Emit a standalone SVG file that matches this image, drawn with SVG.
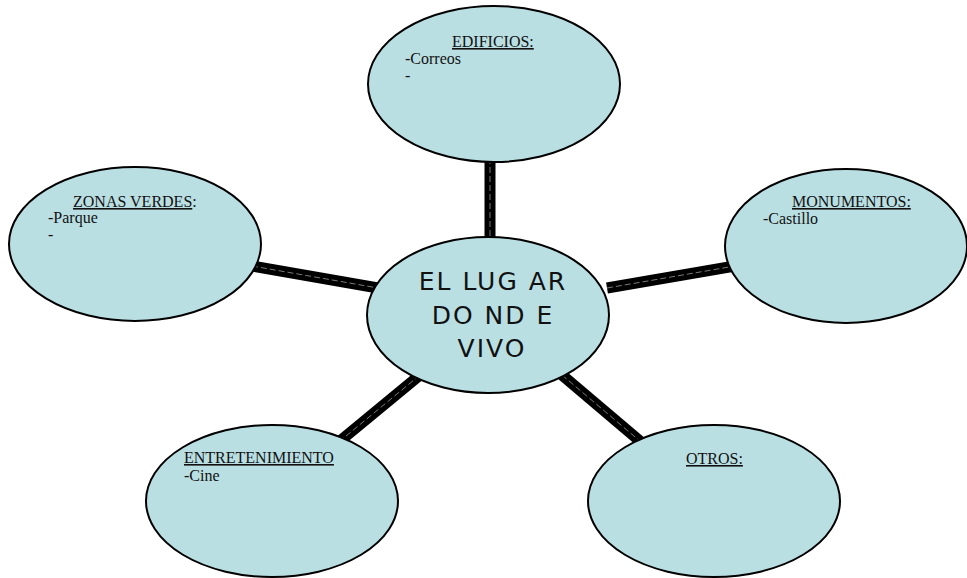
<svg xmlns="http://www.w3.org/2000/svg" width="967" height="578" viewBox="0 0 967 578">
<style>
.node ellipse{fill:#badfe3;stroke:#000;stroke-width:2}
.conn line.o{stroke:#000;stroke-width:11}
.conn line.i{stroke:#7a7a7a;stroke-width:1;stroke-dasharray:6 3}
.t{font-family:"Liberation Serif","Times New Roman",serif;font-size:16px;fill:#111}
.u{text-decoration:underline}
.c{font-family:"DejaVu Sans","Verdana",sans-serif;font-size:25px;fill:#111;letter-spacing:2px;text-anchor:middle}
</style>
<rect width="967" height="578" fill="#fff"/>
<g id="connectors" class="conn">
<line class="o" x1="490" y1="158" x2="490" y2="242"/>
<line class="i" x1="490" y1="158" x2="490" y2="242"/>
<line class="o" x1="252" y1="266" x2="378" y2="288"/>
<line class="i" x1="252" y1="266" x2="378" y2="288"/>
<line class="o" x1="607" y1="288" x2="735" y2="266"/>
<line class="i" x1="607" y1="288" x2="735" y2="266"/>
<line class="o" x1="420" y1="375" x2="340" y2="441"/>
<line class="i" x1="420" y1="375" x2="340" y2="441"/>
<line class="o" x1="562" y1="375" x2="641" y2="442"/>
<line class="i" x1="562" y1="375" x2="641" y2="442"/>
</g>
<g id="edificios" class="node">
<ellipse cx="494" cy="84" rx="126" ry="78"/>
<text class="t" x="452" y="47"><tspan class="u">EDIFICIOS:</tspan></text>
<text class="t" x="405" y="64">-Correos</text>
<text class="t" x="405" y="81">-</text>
</g>
<g id="zonas-verdes" class="node">
<ellipse cx="135" cy="244" rx="126" ry="77"/>
<text class="t" x="73" y="207"><tspan class="u">ZONAS VERDES</tspan>:</text>
<text class="t" x="48" y="223">-Parque</text>
<text class="t" x="48" y="240">-</text>
</g>
<g id="monumentos" class="node">
<ellipse cx="846" cy="246" rx="121" ry="77"/>
<text class="t" x="792" y="207"><tspan class="u">MONUMENTOS:</tspan></text>
<text class="t" x="763" y="224">-Castillo</text>
</g>
<g id="entretenimiento" class="node">
<ellipse cx="272" cy="501" rx="126" ry="76"/>
<text class="t" x="184" y="463"><tspan class="u">ENTRETENIMIENTO</tspan></text>
<text class="t" x="184" y="481">-Cine</text>
</g>
<g id="otros" class="node">
<ellipse cx="714" cy="501" rx="126" ry="76"/>
<text class="t" x="686" y="464"><tspan class="u">OTROS:</tspan></text>
</g>
<g id="centro" class="node">
<ellipse cx="488" cy="315" rx="121" ry="78"/>
<text class="c" x="493" y="290">EL LUG AR</text>
<text class="c" x="493" y="324">DO ND E</text>
<text class="c" x="492" y="357">VIVO</text>
</g>
</svg>
